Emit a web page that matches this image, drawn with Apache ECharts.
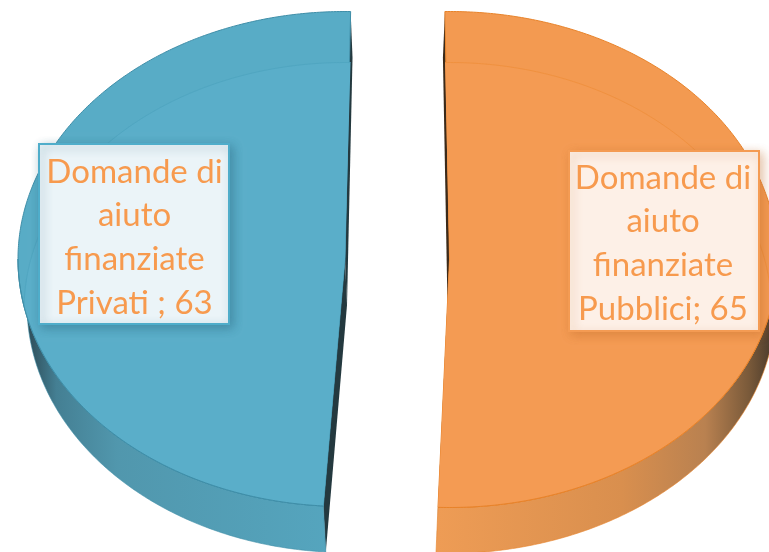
<!DOCTYPE html>
<html>
<head>
<meta charset="utf-8">
<style>
  html, body { margin: 0; padding: 0; background: #fff; }
  #chart { width: 769px; height: 552px; }
</style>
<script src="https://cdn.jsdelivr.net/npm/echarts@6/dist/echarts.min.js"></script>
</head>
<body>
<div id="chart"></div>
<script>
  const categories = ['Domande di\naiuto\nfinanziate\nPrivati ', 'Domande di\naiuto\nfinanziate\nPubblici'];
  const seriesValues = [63, 65];

  // aspetto delle due fette (angoli in gradi, orario da ore 12)
  const slices = [
    {
      start: 183.8, cx: 345, cy: 259, rx: 327, ry: 247.5,
      bottomCx: 347, bottomRx: 320,
      face: '#5aaec9', band: '#58acc6', ring: '#50a6c1', rim: '#3f8ea8', cut: '#24393f',
      side: [[0, '#2c4a55'], [0.1, '#447f93'], [0.3, '#5197ad'], [1, '#55a5be']],
      sideFrom: 26, sideTo: 330,
      box: [39, 144, 190, 180], boxFill: '#ebf4f8', boxLine: '#4fadca', shadow: 'rgba(40,100,125,0.45)',
      textX: 134.5, textY: 237.5,
    },
    {
      start: -0.8, cx: 449.5, cy: 259.5, rx: 328, ry: 248,
      bottomCx: 447.5, bottomRx: 328,
      face: '#f49b53', band: '#f39a51', ring: '#f0913f', rim: '#e8832a', cut: '#3b2a1a',
      side: [[0, '#ee9c55'], [0.55, '#d98f4e'], [0.8, '#b98150'], [0.93, '#7a5a3a'], [1, '#4c3c2c']],
      sideFrom: 438, sideTo: 772,
      box: [569, 151, 190, 180], boxFill: '#fdf0e7', boxLine: '#f49b53', shadow: 'rgba(190,105,40,0.4)',
      textX: 663, textY: 243.5,
    },
  ];
  const depth = 46;
  const ringDrop = 51;
  const textColor = '#f79a4e';

  const total = seriesValues.reduce((a, b) => a + b, 0);
  const rad = (deg) => (deg * Math.PI) / 180;

  const rimPoint = (s, deg, dy = 0, rx = s.rx, cx = s.cx) => [
    cx + rx * Math.sin(rad(deg)),
    s.cy + dy - s.ry * Math.cos(rad(deg)),
  ];

  const arc = (s, from, to, dy, rx, cx) => {
    const pts = [];
    const n = Math.max(2, Math.ceil(Math.abs(to - from) * 2));
    for (let i = 0; i <= n; i++) {
      pts.push(rimPoint(s, from + ((to - from) * i) / n, dy, rx, cx));
    }
    return pts;
  };

  const insideFace = (s, p) => {
    const ex = (p[0] - s.cx) / s.rx;
    const ey = (p[1] - s.cy) / s.ry;
    return ex * ex + ey * ey <= 1;
  };

  const renderItem = (params, api) => {
    const i = params.dataIndex;
    const s = slices[i];
    const sweep = (api.value(0) / total) * 360;
    const a1 = s.start;
    const a2 = s.start + sweep;
    const apex = [s.cx, s.cy];
    const isLeft = i === 0;

    // lati del taglio, sotto a tutto
    const cutFace = (deg) => {
      const p = rimPoint(s, deg);
      const q = rimPoint(s, deg, depth, s.bottomRx, s.bottomCx);
      return {
        type: 'polygon',
        shape: { points: [apex, p, q, [s.bottomCx, apex[1] + depth]] },
        style: { fill: s.cut },
      };
    };

    // fianco visibile: solo la parte davanti
    const sideFrom = isLeft ? a1 : 90;
    const sideTo = isLeft ? 270 : a2;
    const sideTop = arc(s, sideFrom, sideTo, 0);
    const sideBottom = arc(s, sideTo, sideFrom, depth, s.bottomRx, s.bottomCx);
    const side = {
      type: 'polygon',
      shape: { points: sideTop.concat(sideBottom) },
      style: {
        fill: {
          type: 'linear', x: s.sideFrom, y: 0, x2: s.sideTo, y2: 0, global: true,
          colorStops: s.side.map((c) => ({ offset: c[0], color: c[1] })),
        },
        stroke: s.rim, lineWidth: 0.6,
      },
    };

    const faceShape = [apex].concat(arc(s, a1, a2, 0));
    const face = {
      type: 'polygon',
      shape: { points: faceShape },
      style: { fill: s.band, stroke: s.rim, lineWidth: 1 },
    };

    // parte interna del piano, delimitata dall'anello di fondo
    const ringPts = (isLeft ? arc(s, a2, 270, ringDrop, s.rx - 6) : arc(s, a1, 90, ringDrop, s.rx - 6))
      .filter((p) => insideFace(s, p));
    const last = ringPts[ringPts.length - 1];
    const lowerRim = (isLeft ? arc(s, 270, a1, 0) : arc(s, 90, a2, 0)).filter((p) => p[1] >= last[1]);
    const inner = {
      type: 'polygon',
      shape: { points: [apex].concat(ringPts, lowerRim) },
      style: { fill: s.face },
    };
    const ring = {
      type: 'polyline',
      shape: { points: ringPts },
      style: { fill: null, stroke: s.ring, lineWidth: 1 },
    };
    const lowerEdge = {
      type: 'polyline',
      shape: { points: arc(s, isLeft ? 270 : 90, isLeft ? a1 : a2, 0) },
      style: { fill: null, stroke: s.rim, lineWidth: 1 },
    };

    const [bx, by, bw, bh] = s.box;
    const box = {
      type: 'rect',
      shape: { x: bx, y: by, width: bw, height: bh },
      style: {
        fill: s.boxFill, stroke: s.boxLine, lineWidth: 2,
        shadowBlur: 10, shadowColor: s.shadow, shadowOffsetX: 3, shadowOffsetY: 3,
      },
    };
    const label = {
      type: 'text',
      style: {
        text: categories[i] + '; ' + api.value(0),
        x: s.textX, y: s.textY,
        fill: textColor,
        fontFamily: 'Lato', fontSize: 33, lineHeight: 43.7,
        align: 'center', verticalAlign: 'middle',
      },
    };

    return {
      type: 'group',
      children: [cutFace(a1), cutFace(a2), side, face, inner, ring, lowerEdge, box, label],
    };
  };

  const chartInstance = echarts.init(document.getElementById('chart'), null, { renderer: 'canvas' });
  chartInstance.setOption({
    animation: false,
    backgroundColor: '#fff',
    series: [
      {
        type: 'custom',
        coordinateSystem: 'none',
        data: seriesValues,
        renderItem,
        clip: false,
        silent: true,
      },
    ],
  });
</script>
</body>
</html>
